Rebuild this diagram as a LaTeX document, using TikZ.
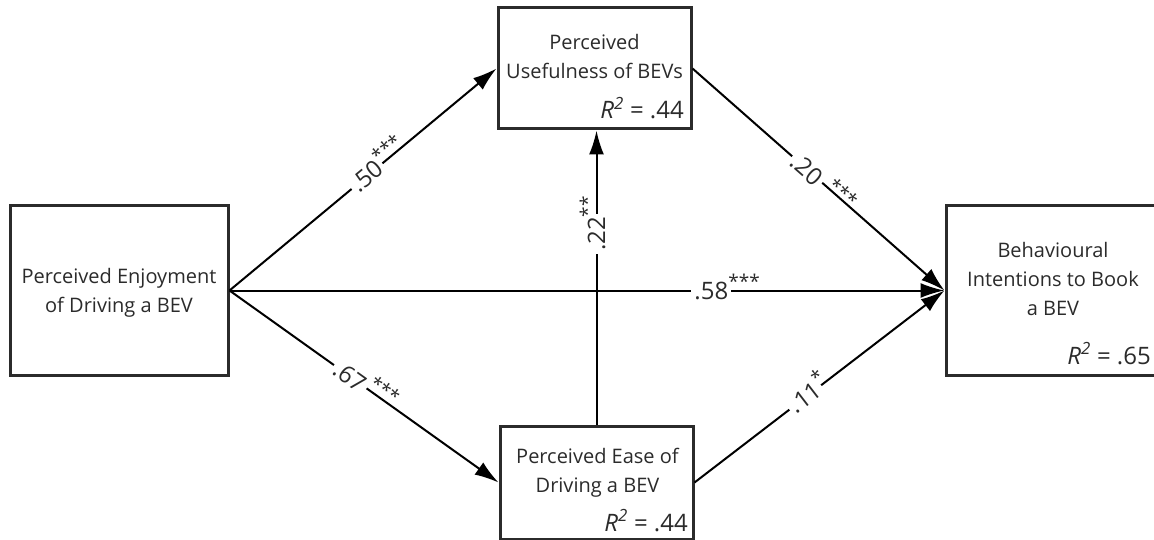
\documentclass[tikz,border=0pt]{standalone}
\usepackage{fontspec}
\setmainfont{Open Sans}
\usetikzlibrary{arrows.meta}
\definecolor{ink}{HTML}{2B2B2B}
\newcommand{\stars}[1]{\smash{\rlap{\raisebox{11pt}{\fontsize{19}{19}\selectfont #1}}}}
\newcommand{\rsqtext}[1]{\textit{R}\textsuperscript{\textit{2}} = #1}
\begin{document}
\begin{tikzpicture}[x=1pt,y=-1pt,
  box/.style={draw=ink, line width=3pt, inner sep=0pt, fill=white},
  btext/.style={align=center, font=\fontsize{20}{29}\selectfont, text=ink, inner sep=0pt},
  pathar/.style={draw=black, line width=2pt, -{Latex[length=24pt,width=15pt]}},
  coef/.style={sloped, fill=white, inner sep=3pt, font=\fontsize{24}{24}\selectfont, text=ink},
  rsq/.style={anchor=base east, font=\fontsize{24}{24}\selectfont, text=ink, inner sep=0pt}
]
\useasboundingbox (0,0) rectangle (1154,540);

% boxes
\node[box, minimum width=218pt, minimum height=169pt] (pe) at (119,290.5) {};
\node[box, minimum width=193pt, minimum height=121pt] (pu) at (594.5,68.5) {};
\node[box, minimum width=193pt, minimum height=113pt] (pease) at (596.5,482.5) {};
\node[box, minimum width=214pt, minimum height=169pt] (bi) at (1053,290.5) {};

% box texts
\node[btext] (pe-t) at (119,293) {Perceived Enjoyment\\of Driving a BEV};
\node[btext] (pu-t) at (594.5,57) {Perceived\\Usefulness of BEVs};
\node[rsq] (pu-r) at (684,119) {\rsqtext{.44}};
\node[btext] (pease-t) at (597.5,472.5) {Perceived Ease of\\Driving a BEV};
\node[rsq] (pease-r) at (688,531) {\rsqtext{.44}};
\node[btext] (bi-t) at (1053,279) {Behavioural\\Intentions to Book\\a BEV};
\node[rsq] (bi-r) at (1151,364) {\rsqtext{.65}};

% paths
\draw[pathar] (pe.east) -- node[coef, pos=0.515] (c50) {.50\stars{***}} (pu.west);
\draw[pathar] (pe.east) -- node[coef, pos=0.449] (c67) {.67\stars{\,***}} (pease.west);
\draw[pathar] (pe.east) -- node[coef, pos=0.674] (c58) {.58\stars{***}} (bi.west);
\draw[pathar] (pu.east) -- node[coef, pos=0.455] (c20) {.20\stars{\raisebox{-3pt}{\enspace***}}} (bi.west);
\draw[pathar] (pease.east) -- node[coef, pos=0.443] (c11) {.11\stars{*}} (bi.west);
\draw[pathar] (pease.north) -- node[coef, pos=0.648] (c22) {.22\stars{**}} (pease.north |- pu.south);
\end{tikzpicture}
\end{document}
